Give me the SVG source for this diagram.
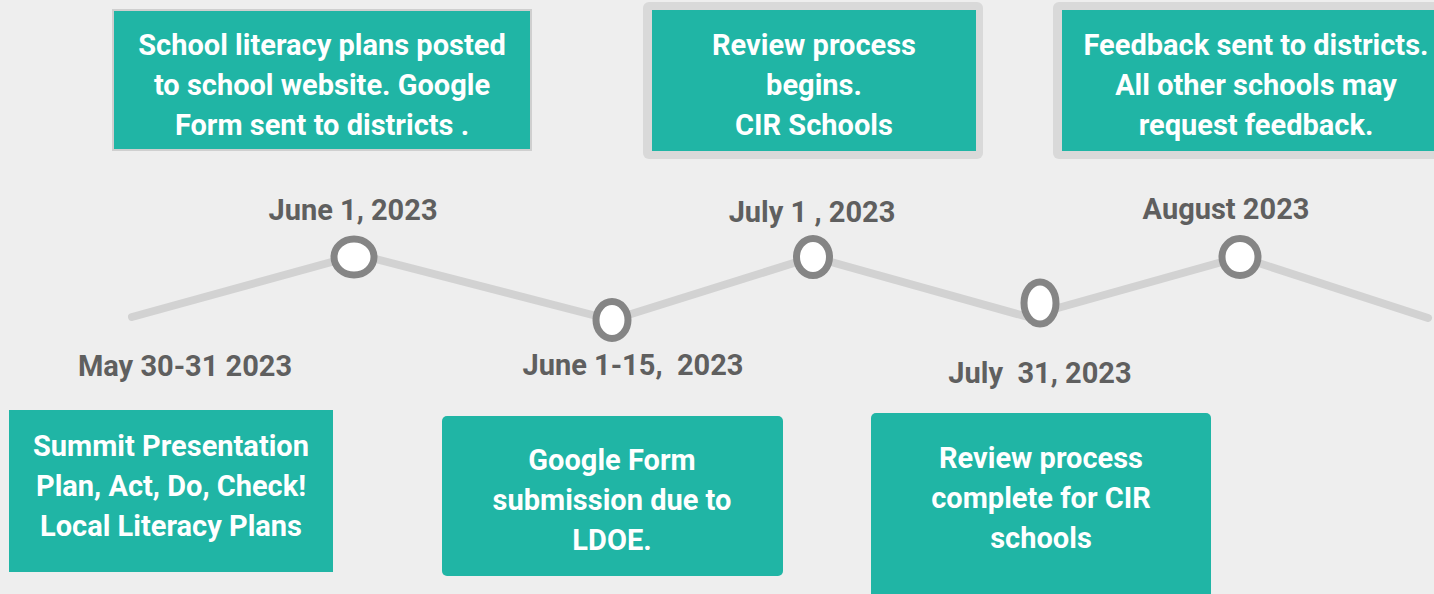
<svg xmlns="http://www.w3.org/2000/svg" width="1434" height="594" viewBox="0 0 1434 594">
<defs>
<style>
.bg{fill:#eeeeee}
.box{fill:#20b5a5}
.frame{fill:#d9d9d9}
.bt{font-family:Roboto,"Liberation Sans",sans-serif;font-weight:700;font-size:29px;fill:#ffffff;text-anchor:middle}
.dt{font-family:Roboto,"Liberation Sans",sans-serif;font-weight:700;font-size:29px;fill:#5f5f5f;text-anchor:middle;white-space:pre}
.ln{stroke:#d2d2d2;stroke-width:8;stroke-linecap:round;fill:none}
.dot{fill:#ffffff;stroke:#858585;stroke-width:7}
</style>
<pattern id="tex" width="4" height="4" patternUnits="userSpaceOnUse">
<rect width="4" height="4" fill="#efefef"/>
<rect width="1" height="1" fill="#e6e6e6"/>
<rect x="2" y="2" width="1" height="1" fill="#f5f5f5"/>
</pattern>
</defs>
<rect class="bg" width="1434" height="594" fill="url(#tex)"/>
<g id="connectors">
<line class="ln" x1="132" y1="317" x2="350" y2="257"/>
<line class="ln" x1="356" y1="254" x2="612" y2="320"/>
<line class="ln" x1="612" y1="320" x2="813" y2="257"/>
<line class="ln" x1="813" y1="257" x2="1035" y2="319"/>
<line class="ln" x1="1040" y1="313" x2="1240" y2="257"/>
<line class="ln" x1="1240" y1="257" x2="1428" y2="318"/>
</g>
<g id="node-june1">
<ellipse class="dot" cx="354" cy="257" rx="20" ry="18"/>
<text class="dt" x="353" y="220">June 1, 2023</text>
</g>
<g id="node-june15">
<ellipse class="dot" cx="612" cy="320" rx="16" ry="18.5"/>
<text class="dt" x="633" y="375">June 1-15,  2023</text>
</g>
<g id="node-july1">
<ellipse class="dot" cx="813" cy="257" rx="16.5" ry="18.5"/>
<text class="dt" x="812" y="222">July 1 , 2023</text>
</g>
<g id="node-july31">
<ellipse class="dot" cx="1040" cy="303" rx="16" ry="21"/>
<text class="dt" x="1040" y="383">July  31, 2023</text>
</g>
<g id="node-august">
<ellipse class="dot" cx="1240" cy="257" rx="18" ry="18.5"/>
<text class="dt" x="1226" y="219">August 2023</text>
</g>
<g id="node-may">
<text class="dt" x="185" y="376">May 30-31 2023</text>
</g>
<g id="box-school-plans">
<rect class="box" x="113" y="10" width="418" height="140" stroke="#cfcfcf" stroke-width="2"/>
<text class="bt" x="322" y="55">School literacy plans posted</text>
<text class="bt" x="322" y="95">to school website. Google</text>
<text class="bt" x="322" y="135">Form sent to districts .</text>
</g>
<g id="box-review-begins">
<rect class="frame" x="643" y="2" width="340" height="157" rx="6"/>
<rect class="box" x="652" y="10" width="324" height="141"/>
<text class="bt" x="814" y="55">Review process</text>
<text class="bt" x="814" y="95">begins.</text>
<text class="bt" x="814" y="135">CIR Schools</text>
</g>
<g id="box-feedback">
<rect class="frame" x="1053" y="2" width="390" height="157" rx="6"/>
<rect class="box" x="1062" y="10" width="380" height="141"/>
<text class="bt" x="1256" y="55">Feedback sent to districts.</text>
<text class="bt" x="1256" y="95">All other schools may</text>
<text class="bt" x="1256" y="135">request feedback.</text>
</g>
<g id="box-summit">
<rect class="box" x="9" y="410" width="324" height="162"/>
<text class="bt" x="171" y="456">Summit Presentation</text>
<text class="bt" x="171" y="496">Plan, Act, Do, Check!</text>
<text class="bt" x="171" y="536">Local Literacy Plans</text>
</g>
<g id="box-form-due">
<rect class="box" x="442" y="416" width="341" height="160" rx="5"/>
<text class="bt" x="612" y="470">Google Form</text>
<text class="bt" x="612" y="510">submission due to</text>
<text class="bt" x="612" y="550">LDOE.</text>
</g>
<g id="box-review-complete">
<rect class="box" x="871" y="413" width="340" height="190" rx="5"/>
<text class="bt" x="1041" y="468">Review process</text>
<text class="bt" x="1041" y="508">complete for CIR</text>
<text class="bt" x="1041" y="548">schools</text>
</g>
</svg>
